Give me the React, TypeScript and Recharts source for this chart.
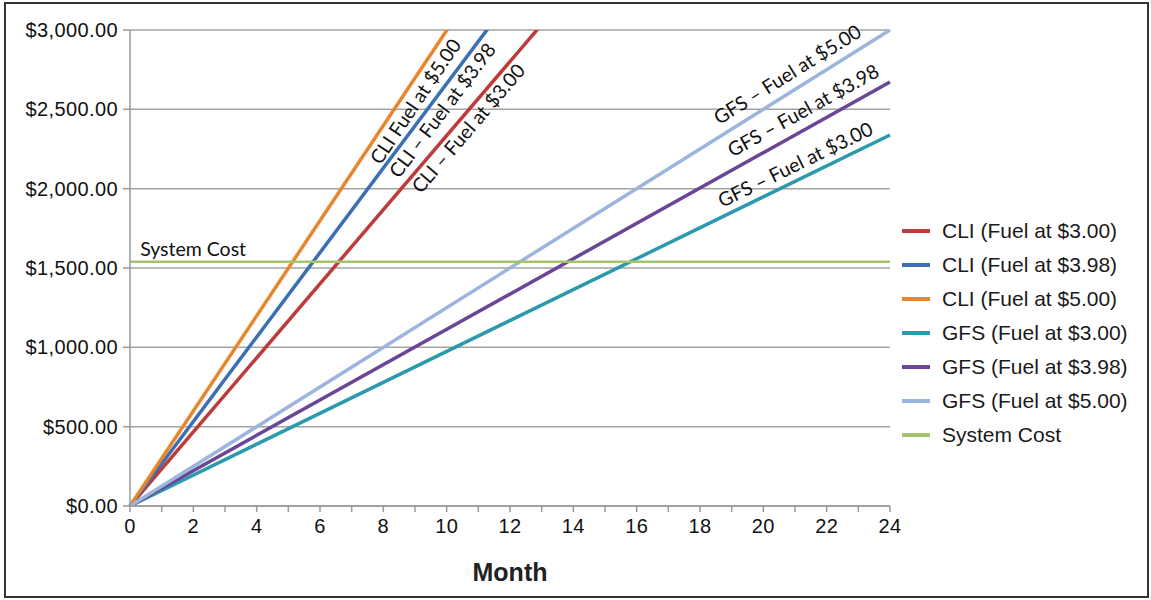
import { LineChart, Line, XAxis, YAxis, CartesianGrid, ReferenceDot } from 'recharts';

const months = [0, 24];
const cliFuel300 = [0, 5603];
const cliFuel398 = [0, 6389];
const cliFuel500 = [0, 7193];
const gfsFuel300 = [0, 2338];
const gfsFuel398 = [0, 2672];
const gfsFuel500 = [0, 3000];
const systemCost = [1540, 1540];

const yTicks = [0, 500, 1000, 1500, 2000, 2500, 3000];
const xTicks = Array.from({ length: 25 }, (_, i) => i);

const series = [
  { key: 'cli300', name: 'CLI (Fuel at $3.00)', values: cliFuel300, color: '#bd3b3b' },
  { key: 'cli398', name: 'CLI (Fuel at $3.98)', values: cliFuel398, color: '#3c6eb4' },
  { key: 'cli500', name: 'CLI (Fuel at $5.00)', values: cliFuel500, color: '#e8862c' },
  { key: 'gfs300', name: 'GFS (Fuel at $3.00)', values: gfsFuel300, color: '#2b9aad' },
  { key: 'gfs398', name: 'GFS (Fuel at $3.98)', values: gfsFuel398, color: '#6a4697' },
  { key: 'gfs500', name: 'GFS (Fuel at $5.00)', values: gfsFuel500, color: '#9db5dd' },
  { key: 'system', name: 'System Cost', values: systemCost, color: '#a5c46c' },
];

const data = months.map((m, i) => {
  const row: Record<string, number> = { month: m };
  series.forEach((s) => {
    row[s.key] = s.values[i];
  });
  return row;
});

// in-plot annotations: anchor (month, value) and text angle
const lineLabels = [
  { text: 'CLI Fuel at $5.00', month: 9.0, value: 2552, angle: 56, anchor: 'middle' },
  { text: 'CLI – Fuel at $3.98', month: 9.85, value: 2496, angle: 53, anchor: 'middle' },
  { text: 'CLI – Fuel at $3.00', month: 10.67, value: 2382, angle: 49.5, anchor: 'middle' },
  { text: 'GFS – Fuel at $5.00', month: 20.75, value: 2723, angle: 32, anchor: 'middle' },
  { text: 'GFS – Fuel at $3.98', month: 21.25, value: 2496, angle: 29, anchor: 'middle' },
  { text: 'GFS – Fuel at $3.00', month: 21.0, value: 2155, angle: 26, anchor: 'middle' },
  { text: 'System Cost', month: 0.32, value: 1620, angle: 0, anchor: 'start' },
];

const money = (v: number) =>
  '$' + v.toLocaleString('en-US', { minimumFractionDigits: 2, maximumFractionDigits: 2 });

const tickFont = { fontFamily: 'Liberation Sans, Arial, sans-serif', fontSize: 20, fill: '#111', letterSpacing: 0.4 };

export default function App() {
  return (
    <div style={{ position: 'absolute', left: 0, top: 0, width: 1151, height: 600, background: '#fff' }}>
      <div
        style={{
          position: 'absolute',
          left: 4,
          top: 2,
          width: 1141,
          height: 592,
          border: '2px solid #333',
        }}
      />
      <div style={{ position: 'absolute', left: 0, top: 0 }}>
        <LineChart width={1151} height={600} data={data} margin={{ top: 30, right: 261, bottom: 0, left: 0 }}>
          <CartesianGrid vertical={false} stroke="#a3a3a3" strokeWidth={1.5} />
          <XAxis
            dataKey="month"
            type="number"
            domain={[0, 24]}
            ticks={xTicks}
            interval={0}
            tickFormatter={(v: number) => (v % 2 === 0 ? String(v) : '')}
            height={94}
            stroke="#999"
            strokeWidth={1.5}
            tickSize={6}
            tickMargin={7}
            tick={tickFont}
            label={{
              value: 'Month',
              position: 'insideBottom',
              offset: 19,
              style: { fontFamily: 'Liberation Sans, Arial, sans-serif', fontSize: 25, fontWeight: 'bold', fill: '#222' },
            }}
          />
          <YAxis
            type="number"
            domain={[0, 3000]}
            allowDataOverflow
            ticks={yTicks}
            tickFormatter={money}
            width={130}
            stroke="#999"
            strokeWidth={1.5}
            tickSize={7}
            tickMargin={5}
            tick={tickFont}
          />
          {series.map((s) => (
            <Line
              key={s.key}
              type="linear"
              dataKey={s.key}
              name={s.name}
              stroke={s.color}
              strokeWidth={s.key === 'system' ? 2.5 : 3.5}
              dot={false}
              activeDot={false}
              isAnimationActive={false}
            />
          ))}
          {lineLabels.map((l) => (
            <ReferenceDot
              key={l.text}
              x={l.month}
              y={l.value}
              r={0}
              fill="none"
              stroke="none"
              label={(props: any) => {
                const vb = props.viewBox || {};
                const cx = (vb.x ?? 0) + (vb.width ?? 0) / 2;
                const cy = (vb.y ?? 0) + (vb.height ?? 0) / 2;
                return (
                  <text
                    x={cx}
                    y={cy}
                    textAnchor={l.anchor}
                    dominantBaseline="central"
                    transform={`rotate(${-l.angle} ${cx} ${cy})`}
                    style={{ fontFamily: 'Lato, Open Sans, sans-serif', fontSize: 19.5, fill: '#111' }}
                  >
                    {l.text}
                  </text>
                );
              }}
            />
          ))}
        </LineChart>
      </div>
      <div style={{ position: 'absolute', left: 902, top: 214 }}>
        {series.map((s) => (
          <div key={s.key} style={{ display: 'flex', alignItems: 'center', height: 34 }}>
            <div style={{ width: 28, height: 4, background: s.color, marginRight: 12 }} />
            <span style={{ fontFamily: 'Liberation Sans, Arial, sans-serif', fontSize: 21, color: '#1a1a1a' }}>{s.name}</span>
          </div>
        ))}
      </div>
    </div>
  );
}
